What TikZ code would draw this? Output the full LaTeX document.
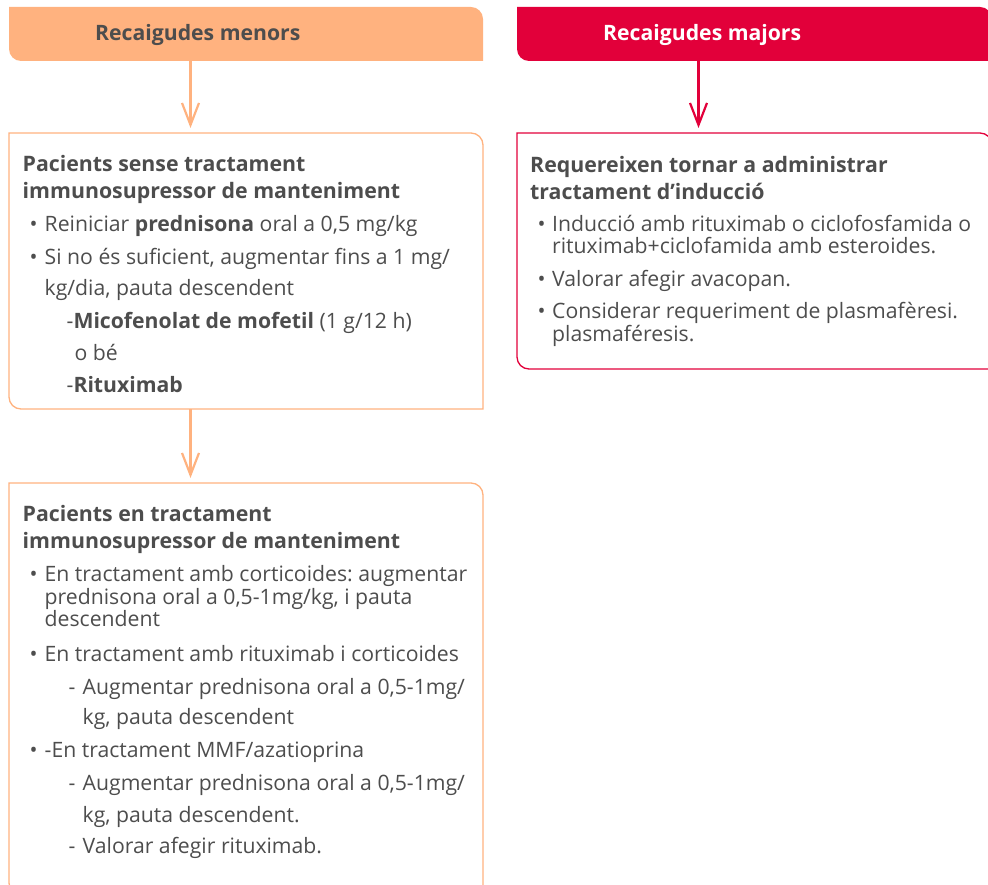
\documentclass[tikz,border=0pt]{standalone}
\usepackage{fontspec}
\setmainfont{Open Sans}
\usetikzlibrary{arrows.meta}
\frenchspacing
\definecolor{orng}{HTML}{FFB27F}
\definecolor{crim}{HTML}{E2003A}
\definecolor{txtc}{HTML}{4D4D4D}
\tikzset{
 frame/.style={inner sep=0pt, outer sep=0pt, anchor=north west, draw=none},
 txt/.style={anchor=base west, inner sep=0pt, text=txtc, font=\fontsize{21.2}{25}\selectfont},
 ttl/.style={anchor=base west, inner sep=0pt, text=txtc, font=\fontsize{21.3}{25}\selectfont\bfseries},
 hdr/.style={anchor=base west, inner sep=0pt, font=\fontsize{21.2}{25}\selectfont\bfseries},
 arrO/.style={draw=orng, line width=2.2pt, shorten >=5pt, -{Straight Barb[length=22pt,width=17pt]}},
 arrR/.style={draw=crim, line width=2.2pt, shorten >=5pt, -{Straight Barb[length=22pt,width=17pt]}},
 outl/.style={line width=1.3pt},
}
\newcommand\bx[2]{%
 \path[#2] (#1.north west) -- ([xshift=-12pt]#1.north east)
   arc[start angle=90,end angle=0,radius=12pt] -- (#1.south east)
   -- ([xshift=12pt]#1.south west) arc[start angle=270,end angle=180,radius=12pt] -- cycle;}
\newcommand\tl[5]{\node[#1] (#2) at (#3,-#4) {#5};}
\begin{document}
\begin{tikzpicture}[x=1pt,y=1pt]
\useasboundingbox (0,0) rectangle (988,-885);
\clip (0,0) rectangle (988,-885);
% frames
\node[frame, minimum width=474pt, minimum height=54pt] (h1) at (9,-7) {};
\node[frame, minimum width=475pt, minimum height=54pt] (h2) at (517,-7) {};
\node[frame, minimum width=474pt, minimum height=276pt] (b1) at (9,-133) {};
\node[frame, minimum width=474pt, minimum height=412pt] (b2) at (9,-483) {};
\node[frame, minimum width=475pt, minimum height=236pt] (b3) at (517,-133) {};
\bx{h1}{fill=orng}
\bx{h2}{fill=crim}
\bx{b1}{draw=orng, outl}
\bx{b2}{draw=orng, outl}
\bx{b3}{draw=crim, outl}
% header texts
\node[hdr, text=txtc] (h1t) at (95,-40.5) {Recaigudes menors};
\node[hdr, text=white] (h2t) at (603,-40.5) {Recaigudes majors};
% arrows
\coordinate (ax1) at (190.5,0);
\coordinate (ax2) at (698.5,0);
\draw[arrO] (h1.south -| ax1) -- (b1.north -| ax1);
\draw[arrO] (b1.south -| ax1) -- (b2.north -| ax1);
\draw[arrR] (h2.south -| ax2) -- (b3.north -| ax2);
% box 1
\tl{ttl}{a1}{22.5}{172}{Pacients sense tractament}
\tl{ttl}{a2}{22.5}{198.5}{immunosupressor de manteniment}
\tl{txt}{a3}{29.5}{231.5}{•}
\tl{txt}{a4}{44.5}{231.5}{Reiniciar \textbf{prednisona} oral a 0,5 mg/kg}
\tl{txt}{a5}{29.5}{265}{•}
\tl{txt}{a6}{44.5}{265}{Si no és suficient, augmentar fins a 1 mg/}
\tl{txt}{a7}{44.5}{296}{kg/dia, pauta descendent}
\tl{txt}{a8}{66.5}{328}{-\textbf{Micofenolat de mofetil} (1 g/12 h)}
\tl{txt}{a9}{74.5}{360}{o bé}
\tl{txt}{a10}{66.5}{392.5}{-\textbf{Rituximab}}
% box 2
\tl{ttl}{c1}{22.5}{521.5}{Pacients en tractament}
\tl{ttl}{c2}{22.5}{548}{immunosupressor de manteniment}
\tl{txt}{c3}{29.5}{581}{•}
\tl{txt}{c4}{44.5}{581}{En tractament amb corticoides: augmentar}
\tl{txt}{c5}{44.5}{604}{prednisona oral a 0,5-1mg/kg, i pauta}
\tl{txt}{c6}{44.5}{626.5}{descendent}
\tl{txt}{c7}{29.5}{661.5}{•}
\tl{txt}{c8}{44.5}{661.5}{En tractament amb rituximab i corticoides}
\tl{txt}{c9}{68.5}{694}{-}
\tl{txt}{c10}{82.5}{694}{Augmentar prednisona oral a 0,5-1mg/}
\tl{txt}{c11}{82.5}{724}{kg, pauta descendent}
\tl{txt}{c12}{29.5}{757}{•}
\tl{txt}{c13}{44.5}{757}{-En tractament MMF/azatioprina}
\tl{txt}{c14}{68.5}{790}{-}
\tl{txt}{c15}{82.5}{790}{Augmentar prednisona oral a 0,5-1mg/}
\tl{txt}{c16}{82.5}{822.5}{kg, pauta descendent.}
\tl{txt}{c17}{68.5}{853}{-}
\tl{txt}{c18}{82.5}{853}{Valorar afegir rituximab.}
% box 3
\tl{ttl}{d1}{530}{173}{Requereixen tornar a administrar}
\tl{ttl}{d2}{530}{199.5}{tractament d’inducció}
\tl{txt}{d3}{537.5}{231.5}{•}
\tl{txt}{d4}{552}{231.5}{Inducció amb rituximab o ciclofosfamida o}
\tl{txt}{d5}{552}{253.5}{rituximab+ciclofamida amb esteroides.}
\tl{txt}{d6}{537.5}{286.5}{•}
\tl{txt}{d7}{552}{286.5}{Valorar afegir avacopan.}
\tl{txt}{d8}{537.5}{318.5}{•}
\tl{txt}{d9}{552}{318.5}{Considerar requeriment de plasmafèresi.}
\tl{txt}{d10}{552}{341.5}{plasmaféresis.}
\end{tikzpicture}
\end{document}
